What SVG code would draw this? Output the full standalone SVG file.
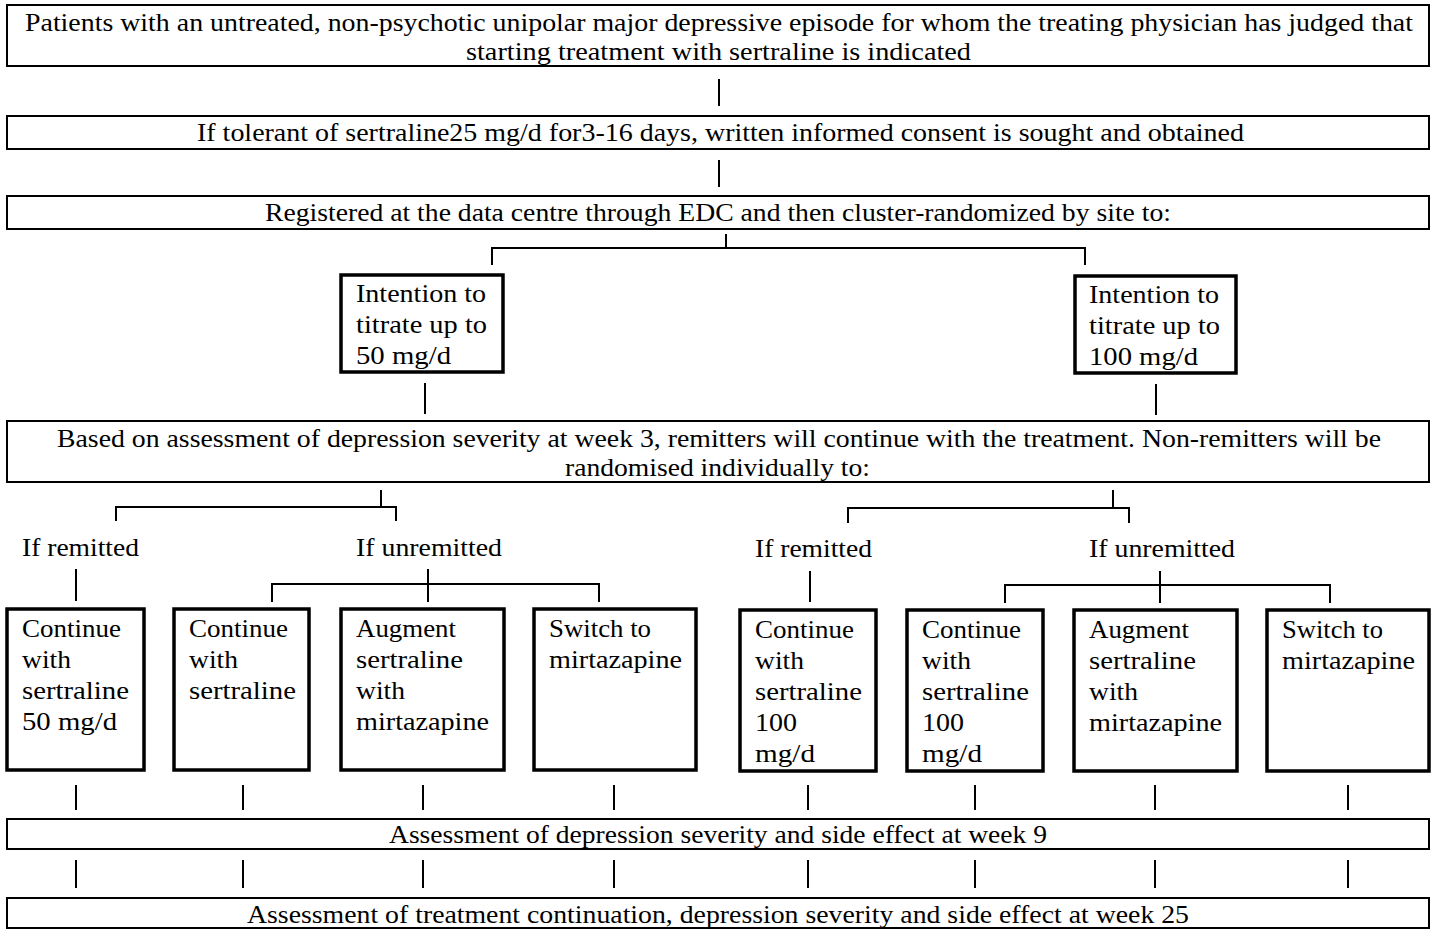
<svg xmlns="http://www.w3.org/2000/svg" width="1438" height="930" viewBox="0 0 1438 930">
<style>
.bg{fill:#fff}
.box{fill:#fff;stroke:#000;stroke-width:2}
.tbox{fill:#fff;stroke:#000;stroke-width:3.5}
.ln{fill:none;stroke:#000;stroke-width:2}
text{font-family:"Liberation Serif","Times New Roman",serif;font-size:26px;fill:#000}
</style>
<rect class="bg" x="0" y="0" width="1438" height="930"/>
<g id="connectors">
<path class="ln" d="M719 79V106M719 160V187M726 234V248M492 265V248H1085V265M425 383V414M1156 384V415M381 490V507M116 521V507H396V521M1113 490V508M848 523V508H1129V523M76 569V601M428 569V602M272 602V584H599V602M810 571V602M1160 571V603M1005 603V585H1330V603"/>
<path class="ln" d="M76 785V810M243 785V810M423 785V810M614 785V810M808 785V810M975 785V810M1155 785V810M1348 785V810M76 860V888M243 860V888M423 860V888M614 860V888M808 860V888M975 860V888M1155 860V888M1348 860V888"/>
</g>
<g id="n-patients">
<rect class="box" x="7" y="5" width="1422" height="61"/>
<text x="25" y="31" textLength="1388" lengthAdjust="spacingAndGlyphs">Patients with an untreated, non-psychotic unipolar major depressive episode for whom the treating physician has judged that</text>
<text x="466" y="60" textLength="505" lengthAdjust="spacingAndGlyphs">starting treatment with sertraline is indicated</text>
</g>
<g id="n-consent">
<rect class="box" x="7" y="116" width="1422" height="33"/>
<text x="197" y="141" textLength="1047" lengthAdjust="spacingAndGlyphs">If tolerant of sertraline25 mg/d for3-16 days, written informed consent is sought and obtained</text>
</g>
<g id="n-registered">
<rect class="box" x="7" y="196" width="1422" height="33"/>
<text x="265" y="221" textLength="906" lengthAdjust="spacingAndGlyphs">Registered at the data centre through EDC and then cluster-randomized by site to:</text>
</g>
<g id="n-intent50">
<rect class="tbox" x="341" y="275" width="162" height="97"/>
<text x="356" y="302" textLength="130" lengthAdjust="spacingAndGlyphs">Intention to</text>
<text x="356" y="333" textLength="131" lengthAdjust="spacingAndGlyphs">titrate up to</text>
<text x="356" y="364" textLength="95" lengthAdjust="spacingAndGlyphs">50 mg/d</text>
</g>
<g id="n-intent100">
<rect class="tbox" x="1075" y="276" width="161" height="97"/>
<text x="1089" y="303" textLength="130" lengthAdjust="spacingAndGlyphs">Intention to</text>
<text x="1089" y="334" textLength="131" lengthAdjust="spacingAndGlyphs">titrate up to</text>
<text x="1089" y="365" textLength="109" lengthAdjust="spacingAndGlyphs">100 mg/d</text>
</g>
<g id="n-week3">
<rect class="box" x="7" y="421" width="1422" height="61"/>
<text x="57" y="447" textLength="1324" lengthAdjust="spacingAndGlyphs">Based on assessment of depression severity at week 3, remitters will continue with the treatment. Non-remitters will be</text>
<text x="565" y="476" textLength="305" lengthAdjust="spacingAndGlyphs">randomised individually to:</text>
</g>
<g id="labels">
<text x="22" y="556" textLength="117" lengthAdjust="spacingAndGlyphs">If remitted</text>
<text x="356" y="556" textLength="146" lengthAdjust="spacingAndGlyphs">If unremitted</text>
<text x="755" y="557" textLength="117" lengthAdjust="spacingAndGlyphs">If remitted</text>
<text x="1089" y="557" textLength="146" lengthAdjust="spacingAndGlyphs">If unremitted</text>
</g>
<g id="n-cont50">
<rect class="tbox" x="7" y="609" width="137" height="161"/>
<text x="22" y="637" textLength="99" lengthAdjust="spacingAndGlyphs">Continue</text>
<text x="22" y="668" textLength="49" lengthAdjust="spacingAndGlyphs">with</text>
<text x="22" y="699" textLength="107" lengthAdjust="spacingAndGlyphs">sertraline</text>
<text x="22" y="730" textLength="95" lengthAdjust="spacingAndGlyphs">50 mg/d</text>
</g>
<g id="n-cont-l">
<rect class="tbox" x="174" y="609" width="135" height="161"/>
<text x="189" y="637" textLength="99" lengthAdjust="spacingAndGlyphs">Continue</text>
<text x="189" y="668" textLength="49" lengthAdjust="spacingAndGlyphs">with</text>
<text x="189" y="699" textLength="107" lengthAdjust="spacingAndGlyphs">sertraline</text>
</g>
<g id="n-aug-l">
<rect class="tbox" x="341" y="609" width="163" height="161"/>
<text x="356" y="637" textLength="100" lengthAdjust="spacingAndGlyphs">Augment</text>
<text x="356" y="668" textLength="107" lengthAdjust="spacingAndGlyphs">sertraline</text>
<text x="356" y="699" textLength="49" lengthAdjust="spacingAndGlyphs">with</text>
<text x="356" y="730" textLength="133" lengthAdjust="spacingAndGlyphs">mirtazapine</text>
</g>
<g id="n-switch-l">
<rect class="tbox" x="534" y="609" width="162" height="161"/>
<text x="549" y="637" textLength="102" lengthAdjust="spacingAndGlyphs">Switch to</text>
<text x="549" y="668" textLength="133" lengthAdjust="spacingAndGlyphs">mirtazapine</text>
</g>
<g id="n-cont100">
<rect class="tbox" x="740" y="610" width="136" height="161"/>
<text x="755" y="638" textLength="99" lengthAdjust="spacingAndGlyphs">Continue</text>
<text x="755" y="669" textLength="49" lengthAdjust="spacingAndGlyphs">with</text>
<text x="755" y="700" textLength="107" lengthAdjust="spacingAndGlyphs">sertraline</text>
<text x="755" y="731" textLength="42" lengthAdjust="spacingAndGlyphs">100</text>
<text x="755" y="762" textLength="60" lengthAdjust="spacingAndGlyphs">mg/d</text>
</g>
<g id="n-cont-r">
<rect class="tbox" x="907" y="610" width="136" height="161"/>
<text x="922" y="638" textLength="99" lengthAdjust="spacingAndGlyphs">Continue</text>
<text x="922" y="669" textLength="49" lengthAdjust="spacingAndGlyphs">with</text>
<text x="922" y="700" textLength="107" lengthAdjust="spacingAndGlyphs">sertraline</text>
<text x="922" y="731" textLength="42" lengthAdjust="spacingAndGlyphs">100</text>
<text x="922" y="762" textLength="60" lengthAdjust="spacingAndGlyphs">mg/d</text>
</g>
<g id="n-aug-r">
<rect class="tbox" x="1074" y="610" width="163" height="161"/>
<text x="1089" y="638" textLength="100" lengthAdjust="spacingAndGlyphs">Augment</text>
<text x="1089" y="669" textLength="107" lengthAdjust="spacingAndGlyphs">sertraline</text>
<text x="1089" y="700" textLength="49" lengthAdjust="spacingAndGlyphs">with</text>
<text x="1089" y="731" textLength="133" lengthAdjust="spacingAndGlyphs">mirtazapine</text>
</g>
<g id="n-switch-r">
<rect class="tbox" x="1267" y="610" width="162" height="161"/>
<text x="1282" y="638" textLength="101" lengthAdjust="spacingAndGlyphs">Switch to</text>
<text x="1282" y="669" textLength="133" lengthAdjust="spacingAndGlyphs">mirtazapine</text>
</g>
<g id="n-week9">
<rect class="box" x="7" y="819" width="1422" height="30"/>
<text x="389" y="843" textLength="658" lengthAdjust="spacingAndGlyphs">Assessment of depression severity and side effect at week 9</text>
</g>
<g id="n-week25">
<rect class="box" x="7" y="898" width="1422" height="30"/>
<text x="247" y="923" textLength="942" lengthAdjust="spacingAndGlyphs">Assessment of treatment continuation, depression severity and side effect at week 25</text>
</g>
</svg>
